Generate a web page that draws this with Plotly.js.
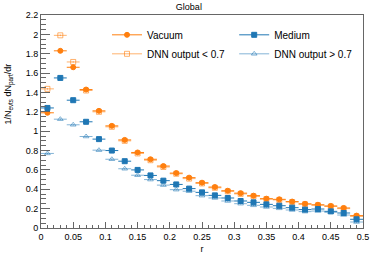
<!DOCTYPE html>
<html><head><meta charset="utf-8">
<script src="https://cdn.plot.ly/plotly-3.0.1.min.js"></script>
<style>html,body{margin:0;padding:0;background:#fff}#c{width:374px;height:254px}</style>
</head><body><div id="c"></div>
<script>
const r = [0.01,0.03,0.05,0.07,0.09,0.11,0.13,0.15,0.17,0.19,0.21,0.23,0.25,0.27,0.29,0.31,0.33,0.35,0.37,0.39,0.41,0.43,0.45,0.47,0.49];
const binHalfWidth = 0.01;
const vacuum = [1.19,1.83,1.66,1.43,1.21,1.055,0.91,0.78,0.71,0.64,0.567,0.52,0.468,0.423,0.385,0.36,0.334,0.303,0.296,0.273,0.25,0.24,0.228,0.207,0.128];
const medium = [1.24,1.55,1.32,1.097,0.918,0.80,0.69,0.60,0.543,0.489,0.45,0.407,0.368,0.337,0.31,0.279,0.265,0.244,0.23,0.21,0.19,0.196,0.172,0.155,0.09];
const dnnLow = [1.437,1.99,1.715,1.42,1.20,1.045,0.90,0.77,0.70,0.63,0.56,0.51,0.46,0.415,0.378,0.352,0.327,0.298,0.29,0.268,0.245,0.235,0.222,0.2,0.12];
const dnnHigh = [0.77,1.124,1.066,0.945,0.804,0.71,0.612,0.545,0.50,0.443,0.396,0.38,0.334,0.31,0.279,0.251,0.234,0.217,0.203,0.186,0.169,0.175,0.162,0.134,0.062];
const labels = ['Vacuum','Medium','DNN output < 0.7','DNN output > 0.7'];

const orange = '#ff7f0e', blue = '#1f77b4';
const orangeLight = 'rgba(255,127,14,0.6)', blueLight = 'rgba(31,119,180,0.55)';
function tr(y, name, color, symbol) {
  return {
    x: r, y: y, name: name, type: 'scatter', mode: 'markers', showlegend: false,
    marker: {symbol: symbol, size: 5, color: color, line: {color: color, width: 1}},
    error_x: {type: 'constant', value: binHalfWidth, color: color, thickness: 1, width: 0},
    error_y: {type: 'constant', value: 0.008, color: color, thickness: 1, width: 0}
  };
}
function leg(name, color, symbol, legend, rank) {
  return {
    x: [null], y: [null], name: name, type: 'scatter', mode: 'lines+markers', legend: legend,
    legendrank: rank, line: {color: color, width: 1},
    marker: {symbol: symbol, size: 5, color: color, line: {color: color, width: 1}}
  };
}
const data = [
  tr(dnnLow, labels[2], orangeLight, 'square-open'),
  tr(dnnHigh, labels[3], blueLight, 'triangle-up-open'),
  tr(vacuum, labels[0], orange, 'circle'),
  tr(medium, labels[1], blue, 'square'),
  leg(labels[0], orange, 'circle', 'legend', 1),
  leg(labels[2], orangeLight, 'square-open', 'legend', 2),
  leg(labels[1], blue, 'square', 'legend2', 1),
  leg(labels[3], blueLight, 'triangle-up-open', 'legend2', 2)
];

const axisCommon = {
  showline: true, linecolor: '#666', linewidth: 1, mirror: true, ticks: 'inside',
  tickcolor: '#666', showgrid: false, zeroline: false,
  tickfont: {family: 'Liberation Sans, Arial, sans-serif', size: 9, color: '#000'}
};
const layout = {
  width: 374, height: 254,
  margin: {l: 41, r: 11, t: 15, b: 26},
  paper_bgcolor: '#fff', plot_bgcolor: '#fff',
  font: {family: 'Liberation Sans, Arial, sans-serif', size: 9, color: '#000'},
  title: {text: 'Global', x: 0.505, xanchor: 'center', y: 0.975, yanchor: 'middle',
          font: {size: 9, family: 'Liberation Sans, Arial, sans-serif'}},
  xaxis: Object.assign({}, axisCommon, {
    range: [0, 0.5], tick0: 0, dtick: 0.05, ticklen: 6,
    minor: {dtick: 0.01, ticklen: 3, ticks: 'inside', tickcolor: '#666'},
    title: {text: 'r', font: {size: 9}, standoff: 6}
  }),
  yaxis: Object.assign({}, axisCommon, {
    range: [0, 2.2], tick0: 0, dtick: 0.2, ticklen: 9,
    minor: {dtick: 0.05, ticklen: 5, ticks: 'inside', tickcolor: '#666'}
  }),
  legend: {x: 0.205, y: 0.975, xanchor: 'left', yanchor: 'top', bgcolor: 'rgba(0,0,0,0)',
           font: {size: 10}, tracegroupgap: 0, itemwidth: 30},
  legend2: {x: 0.6, y: 0.975, xanchor: 'left', yanchor: 'top', bgcolor: 'rgba(0,0,0,0)',
           font: {size: 10}, tracegroupgap: 0, itemwidth: 30},
  annotations: [{
    text: '1/N<sub>evts</sub> dN<sub>part</sub>/dr', textangle: -90,
    xref: 'paper', yref: 'paper', x: -0.1, y: 0.63, xanchor: 'center', yanchor: 'middle',
    showarrow: false, font: {size: 9}
  }]
};
Plotly.newPlot('c', data, layout, {displayModeBar: false, staticPlot: true});
</script></body></html>
